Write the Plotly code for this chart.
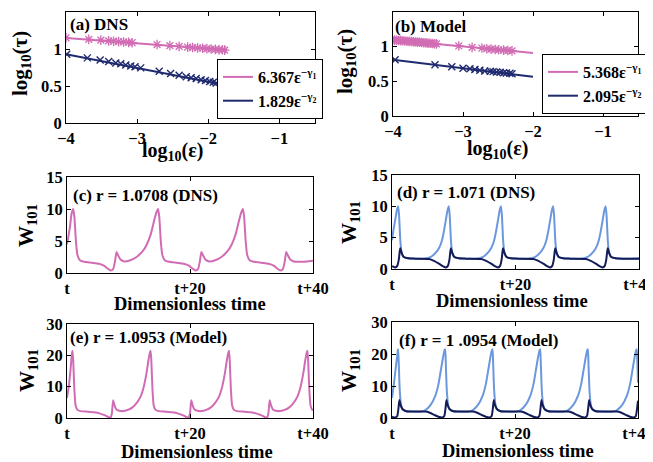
import plotly.graph_objects as go

# ---------------- data ----------------
# (a) DNS scaling
a_star_x = [-4.0, -3.68, -3.51, -3.40, -3.33, -3.26, -3.19, -3.12, -3.07, -2.72, -2.54, -2.41, -2.29,
            -2.22, -2.15, -2.08, -2.02, -1.96, -1.90, -1.85, -1.80, -1.77]
a_star_y = [1.15, 1.13, 1.12, 1.11, 1.105, 1.10, 1.095, 1.09, 1.085, 1.06, 1.045, 1.035, 1.025,
            1.02, 1.015, 1.01, 1.005, 1.0, 0.995, 0.99, 0.99, 0.985]
a_x_x = [-3.99, -3.70, -3.52, -3.40, -3.30, -3.23, -3.16, -3.09, -3.03, -2.95, -2.69, -2.53, -2.41,
         -2.31, -2.24, -2.17, -2.10, -2.04, -1.98, -1.93, -1.89]
a_x_y = [0.93, 0.88, 0.85, 0.83, 0.81, 0.80, 0.785, 0.77, 0.76, 0.745, 0.70, 0.67, 0.645,
         0.625, 0.61, 0.60, 0.585, 0.575, 0.56, 0.55, 0.54]
a_fit1_x = [-4.0, -1.75]
a_fit1_y = [1.15, 0.985]
a_fit2_x = [-4.0, -1.75]
a_fit2_y = [0.93, 0.51]
a_labels = ["6.367ε<sup>−γ<sub>1</sub></sup>", "1.829ε<sup>−γ<sub>2</sub></sup>"]

# (b) Model scaling
b_star_x = [-4.02, -3.98, -3.95, -3.92, -3.89, -3.86, -3.83, -3.80, -3.77, -3.74, -3.71, -3.68, -3.65,
            -3.62, -3.59, -3.56, -3.53, -3.50, -3.47, -3.44, -3.41, -3.38,
            -3.06, -2.87, -2.73, -2.66, -2.60, -2.54, -2.49, -2.42, -2.36, -2.30]
b_star_y = [1.10, 1.095, 1.093, 1.09, 1.087, 1.085, 1.082, 1.079, 1.076, 1.074, 1.071, 1.068, 1.065,
            1.063, 1.06, 1.057, 1.054, 1.051, 1.049, 1.046, 1.043, 1.04,
            1.01, 0.99, 0.98, 0.97, 0.965, 0.96, 0.955, 0.95, 0.945, 0.94]
b_x_x = [-3.97, -3.40, -3.16, -3.00, -2.90, -2.83, -2.76, -2.69, -2.61, -2.57, -2.52, -2.47, -2.42,
         -2.38, -2.33, -2.30]
b_x_y = [0.81, 0.74, 0.71, 0.69, 0.68, 0.67, 0.66, 0.65, 0.645, 0.64, 0.635, 0.63, 0.625,
         0.62, 0.615, 0.61]
b_fit1_x = [-4.0, -2.0]
b_fit1_y = [1.097, 0.91]
b_fit2_x = [-4.0, -2.0]
b_fit2_y = [0.81, 0.565]
b_labels = ["5.368ε<sup>−γ<sub>1</sub></sup>", "2.095ε<sup>−γ<sub>2</sub></sup>"]

# (c) r = 1.0708 DNS
c_t = [0.0, 0.45, 0.75, 1.0, 1.2, 1.45, 1.7, 2.1, 2.8, 4.0, 5.2, 6.0, 6.6, 7.1, 7.5, 7.8, 8.05, 8.3, 8.7, 9.3,
       10.3, 11.3, 12.3, 13.0, 13.6, 14.2, 14.55, 14.8, 15.0, 15.25, 15.5, 15.9, 16.6, 17.8, 19.0, 19.8,
       20.4, 20.9, 21.3, 21.6, 21.85, 22.1, 22.5, 23.1,
       24.1, 25.1, 26.1, 26.8, 27.4, 28.0, 28.35, 28.6, 28.8, 29.05, 29.3, 29.7, 30.4, 31.6, 32.8, 33.6,
       34.2, 34.7, 35.1, 35.4, 35.65, 35.9, 36.3, 36.9, 38.0, 39.0, 40.0]
c_w = [4.5, 7.0, 9.3, 10.0, 8.8, 5.0, 2.8, 2.0, 1.75, 1.6, 1.45, 1.15, 0.7, 0.4, 0.6, 1.8, 3.3, 2.8, 2.1, 1.8,
       2.0, 2.5, 3.4, 4.5, 6.0, 8.3, 9.5, 10.0, 8.8, 5.0, 2.8, 2.0, 1.75, 1.6, 1.45, 1.15,
       0.7, 0.4, 0.6, 1.8, 3.3, 2.8, 2.1, 1.8,
       2.0, 2.5, 3.4, 4.5, 6.0, 8.3, 9.5, 10.0, 8.8, 5.0, 2.8, 2.0, 1.75, 1.6, 1.45, 1.15,
       0.7, 0.4, 0.6, 1.8, 3.3, 2.8, 2.1, 1.8, 1.75, 1.8, 1.9]

# (d) r = 1.071 DNS
d1_t = [0.0, 0.2, 0.55, 0.8, 1.0, 1.15, 1.35, 1.55, 1.9, 2.6, 3.8,
        5.0, 6.0, 6.8, 7.6, 8.1, 8.4, 8.75, 9.0, 9.2, 9.35, 9.55, 9.75, 10.1, 10.8, 12.0,
        13.45, 14.45, 15.25, 16.05, 16.55, 16.85, 17.2, 17.45, 17.65, 17.8, 18.0, 18.2, 18.55, 19.25, 20.45,
        21.9, 22.9, 23.7, 24.5, 25.0, 25.3, 25.65, 25.9, 26.1, 26.25, 26.45, 26.65, 27.0, 27.7, 28.9,
        30.4, 31.4, 32.2, 33.0, 33.5, 33.8, 34.15, 34.4, 34.6, 34.75, 34.95, 35.15, 35.5, 36.2, 37.4, 38.5, 40.0]
d1_w = [4.6, 6.0, 8.0, 9.4, 10.0, 8.5, 4.5, 2.6, 1.9, 1.7, 1.65,
        1.65, 1.8, 2.3, 3.3, 4.6, 6.0, 8.0, 9.4, 10.0, 8.5, 4.5, 2.6, 1.9, 1.7, 1.65,
        1.65, 1.8, 2.3, 3.3, 4.6, 6.0, 8.0, 9.4, 10.0, 8.5, 4.5, 2.6, 1.9, 1.7, 1.65,
        1.65, 1.8, 2.3, 3.3, 4.6, 6.0, 8.0, 9.4, 10.0, 8.5, 4.5, 2.6, 1.9, 1.7, 1.65,
        1.65, 1.8, 2.3, 3.3, 4.6, 6.0, 8.0, 9.4, 10.0, 8.5, 4.5, 2.6, 1.9, 1.7, 1.65, 1.65, 1.7]
d2_t = [0.0, 0.5, 0.85, 1.1, 1.25, 1.35, 1.55, 1.9, 2.6, 3.8,
        6.0, 6.8, 7.6, 8.2, 8.7, 9.05, 9.3, 9.45, 9.55, 9.75, 10.1, 10.8, 12.0,
        14.45, 15.25, 16.05, 16.65, 17.15, 17.5, 17.75, 17.9, 18.0, 18.2, 18.55, 19.25, 20.45,
        22.9, 23.7, 24.5, 25.1, 25.6, 25.95, 26.2, 26.35, 26.45, 26.65, 27.0, 27.7, 28.9,
        31.4, 32.2, 33.0, 33.6, 34.1, 34.45, 34.7, 34.85, 34.95, 35.15, 35.5, 36.2, 37.4, 40.0]
d2_w = [0.45, 0.25, 0.5, 1.5, 2.8, 3.3, 2.6, 1.9, 1.7, 1.65,
        1.6, 1.3, 0.85, 0.45, 0.25, 0.5, 1.5, 2.8, 3.3, 2.6, 1.9, 1.7, 1.65,
        1.6, 1.3, 0.85, 0.45, 0.25, 0.5, 1.5, 2.8, 3.3, 2.6, 1.9, 1.7, 1.65,
        1.6, 1.3, 0.85, 0.45, 0.25, 0.5, 1.5, 2.8, 3.3, 2.6, 1.9, 1.7, 1.65,
        1.6, 1.3, 0.85, 0.45, 0.25, 0.5, 1.5, 2.8, 3.3, 2.6, 1.9, 1.7, 1.65, 1.65]

# (e) r = 1.0953 Model
e_t = [0.0, 0.35, 0.6, 0.8, 0.9, 1.02, 1.2, 1.4, 1.7, 2.2, 3.4, 4.4, 5.4, 6.1, 6.7, 7.1, 7.3, 7.5, 7.7, 8.0, 8.5,
       9.1, 9.9, 10.6, 11.4, 12.0, 12.4, 12.9, 13.25, 13.5, 13.6, 13.72, 13.9, 14.1, 14.4, 14.9, 16.1, 17.1,
       18.1, 18.8, 19.4, 19.8, 20.0, 20.2, 20.4, 20.7, 21.2,
       21.85, 22.65, 23.35, 24.15, 24.75, 25.15, 25.65, 26.0, 26.25, 26.35, 26.47, 26.65, 26.85, 27.15, 27.65,
       28.85, 29.85, 30.85, 31.55, 32.15, 32.55, 32.75, 32.95, 33.15, 33.45, 33.95,
       34.6, 35.4, 36.1, 36.9, 37.5, 37.9, 38.4, 38.75, 39.0, 39.1, 39.22, 39.4, 39.6, 39.85, 40.0]
e_w = [6.4, 11.0, 16.0, 20.5, 21.5, 18.0, 9.0, 4.0, 2.6, 2.2, 2.0, 1.8, 1.4, 0.9, 0.3, 0.15, 1.5, 5.7, 4.2, 2.8, 2.3,
       2.2, 2.6, 3.3, 5.0, 7.0, 9.3, 14.0, 18.5, 21.0, 21.5, 18.0, 9.0, 4.0, 2.6, 2.2, 2.0, 1.8,
       1.4, 0.9, 0.3, 0.15, 1.5, 5.7, 4.2, 2.8, 2.3,
       2.2, 2.6, 3.3, 5.0, 7.0, 9.3, 14.0, 18.5, 21.0, 21.5, 18.0, 9.0, 4.0, 2.6, 2.2,
       2.0, 1.8, 1.4, 0.9, 0.3, 0.15, 1.5, 5.7, 4.2, 2.8, 2.3,
       2.2, 2.6, 3.3, 5.0, 7.0, 9.3, 14.0, 18.5, 21.0, 21.5, 18.0, 9.0, 4.0, 2.7, 2.5]

# (f) r = 1.0954 Model
f1_t = [0.0, 0.3, 0.6, 0.85, 0.95, 1.0, 1.1, 1.25, 1.45, 1.7, 2.2, 3.2,
        4.75, 5.45, 6.25, 7.05, 7.55, 7.95, 8.3, 8.55, 8.65, 8.75, 8.9, 9.1, 9.35, 9.85, 10.85,
        12.45, 13.15, 13.95, 14.75, 15.25, 15.65, 16.0, 16.25, 16.35, 16.45, 16.6, 16.8, 17.05, 17.55, 18.55,
        20.2, 20.9, 21.7, 22.5, 23.0, 23.4, 23.75, 24.0, 24.1, 24.2, 24.35, 24.55, 24.8, 25.3, 26.3,
        27.95, 28.65, 29.45, 30.25, 30.75, 31.15, 31.5, 31.75, 31.85, 31.95, 32.1, 32.3, 32.55, 33.05, 34.05,
        35.9, 36.6, 37.4, 38.2, 38.7, 39.1, 39.45, 39.7, 39.8, 39.9, 40.0]
f1_w = [6.3, 10.5, 15.5, 19.5, 21.2, 21.5, 17.0, 9.0, 4.5, 2.8, 2.2, 2.0,
        2.0, 2.5, 4.0, 7.0, 10.5, 15.0, 19.0, 21.2, 21.5, 17.0, 9.0, 4.5, 2.8, 2.2, 2.0,
        2.0, 2.5, 4.0, 7.0, 10.5, 15.0, 19.0, 21.2, 21.5, 17.0, 9.0, 4.5, 2.8, 2.2, 2.0,
        2.0, 2.5, 4.0, 7.0, 10.5, 15.0, 19.0, 21.2, 21.5, 17.0, 9.0, 4.5, 2.8, 2.2, 2.0,
        2.0, 2.5, 4.0, 7.0, 10.5, 15.0, 19.0, 21.2, 21.5, 17.0, 9.0, 4.5, 2.8, 2.2, 2.0,
        2.0, 2.5, 4.0, 7.0, 10.5, 15.0, 19.0, 21.2, 21.5, 17.0, 11.0]
f2_t = [0.0, 0.5, 0.85, 1.05, 1.2, 1.4, 1.7, 2.2, 3.2,
        5.45, 6.05, 6.85, 7.55, 8.15, 8.5, 8.7, 8.85, 9.05, 9.35, 9.85, 10.85,
        13.15, 13.75, 14.55, 15.25, 15.85, 16.2, 16.4, 16.55, 16.75, 17.05, 17.55, 18.55,
        20.9, 21.5, 22.3, 23.0, 23.6, 23.95, 24.15, 24.3, 24.5, 24.8, 25.3, 26.3,
        28.65, 29.25, 30.05, 30.75, 31.35, 31.7, 31.9, 32.05, 32.25, 32.55, 33.05, 34.05,
        36.6, 37.2, 38.0, 38.7, 39.3, 39.65, 39.85, 40.0]
f2_w = [0.45, 0.15, 0.6, 3.0, 5.6, 4.0, 2.8, 2.2, 2.0,
        2.0, 1.7, 1.0, 0.4, 0.15, 0.6, 3.0, 5.6, 4.0, 2.8, 2.2, 2.0,
        2.0, 1.7, 1.0, 0.4, 0.15, 0.6, 3.0, 5.6, 4.0, 2.8, 2.2, 2.0,
        2.0, 1.7, 1.0, 0.4, 0.15, 0.6, 3.0, 5.6, 4.0, 2.8, 2.2, 2.0,
        2.0, 1.7, 1.0, 0.4, 0.15, 0.6, 3.0, 5.6, 4.0, 2.8, 2.2, 2.0,
        2.0, 1.7, 1.0, 0.4, 0.15, 0.6, 3.0, 5.4]

panel_titles = ["(a) DNS", "(b) Model", "(c) r = 1.0708 (DNS)", "(d) r = 1.071 (DNS)",
                "(e) r = 1.0953 (Model)", "(f) r = 1 .0954 (Model)"]
xtitles = ["log<sub>10</sub>(ε)", "log<sub>10</sub>(ε)", "Dimensionless time", "Dimensionless time",
           "Dimensionless time", "Dimensionless time"]
ytitles = ["log<sub>10</sub>(τ)", "log<sub>10</sub>(τ)", "W<sub>101</sub>", "W<sub>101</sub>",
           "W<sub>101</sub>", "W<sub>101</sub>"]
eps_ticks = [-4, -3, -2, -1]
tau_ticks = [0, 0.5, 1, 1.5]
w_ticks_small = [0, 5, 10, 15]
w_ticks_large = [0, 10, 20, 30]
time_tickvals = [0, 20, 40]
time_ticktext = ["t", "t+20", "t+40"]

# ---------------- style ----------------
PINK = "#d16cb4"
NAVY = "#1f2a6e"
LIGHT = "#6b98dc"
DARK = "#141c58"
FONT = "Liberation Serif"
OFF = 8                      # page body margin of the html page
W, H = 660, 462 - OFF        # figure a little wider than the window so edge tick labels are kept (cut by window)

def px_x(p):
    return (p - OFF) / W

def px_y(p):
    return 1 - (p - OFF) / H

fig = go.Figure()

def smooth_line(x, y, color, xa, ya, width=2):
    fig.add_trace(go.Scatter(x=x, y=y, mode="lines", line=dict(color=color, width=width, shape="spline", smoothing=0.5),
                             xaxis=xa, yaxis=ya, showlegend=False, hoverinfo="skip"))

star = dict(symbol="asterisk-open", size=8, color=PINK, line=dict(width=1.3, color=PINK))
cross = dict(symbol="x-thin-open", size=7, color=NAVY, line=dict(width=1.4, color=NAVY))

# (a)
fig.add_trace(go.Scatter(x=a_fit1_x, y=a_fit1_y, mode="lines", line=dict(color=PINK, width=2), name=a_labels[0],
                         xaxis="x", yaxis="y", legend="legend"))
fig.add_trace(go.Scatter(x=a_fit2_x, y=a_fit2_y, mode="lines", line=dict(color=NAVY, width=2), name=a_labels[1],
                         xaxis="x", yaxis="y", legend="legend"))
fig.add_trace(go.Scatter(x=a_star_x, y=a_star_y, mode="markers", marker=star, xaxis="x", yaxis="y", showlegend=False))
fig.add_trace(go.Scatter(x=a_x_x, y=a_x_y, mode="markers", marker=cross, xaxis="x", yaxis="y", showlegend=False))
# (b)
fig.add_trace(go.Scatter(x=b_fit1_x, y=b_fit1_y, mode="lines", line=dict(color=PINK, width=2), name=b_labels[0],
                         xaxis="x2", yaxis="y2", legend="legend2"))
fig.add_trace(go.Scatter(x=b_fit2_x, y=b_fit2_y, mode="lines", line=dict(color=NAVY, width=2), name=b_labels[1],
                         xaxis="x2", yaxis="y2", legend="legend2"))
fig.add_trace(go.Scatter(x=b_star_x, y=b_star_y, mode="markers", marker=star, xaxis="x2", yaxis="y2", showlegend=False))
fig.add_trace(go.Scatter(x=b_x_x, y=b_x_y, mode="markers", marker=cross, xaxis="x2", yaxis="y2", showlegend=False))
# (c)-(f)
smooth_line(c_t, c_w, PINK, "x3", "y3")
smooth_line(d1_t, d1_w, LIGHT, "x4", "y4")
smooth_line(d2_t, d2_w, DARK, "x4", "y4")
smooth_line(e_t, e_w, PINK, "x5", "y5")
smooth_line(f1_t, f1_w, LIGHT, "x6", "y6")
smooth_line(f2_t, f2_w, DARK, "x6", "y6")

tickfont = dict(family=FONT, size=16.5, color="black", weight="bold")

def axis_common():
    return dict(showline=True, linecolor="black", linewidth=1, mirror="ticks", ticks="inside", ticklen=4,
                tickcolor="black", showgrid=False, zeroline=False, tickfont=tickfont, automargin=False)

# domains in window pixels: (left, right, top, bottom)
boxes = [(66, 315, 12, 123), (393, 638, 12, 116), (67, 313, 177, 273), (392, 639, 175, 269),
         (67, 313, 324, 418), (392, 638, 322, 418)]

layout = dict(width=W, height=H, margin=dict(l=0, r=0, t=0, b=0), plot_bgcolor="white", paper_bgcolor="white")
for i, (l, r, t, b) in enumerate(boxes):
    n = "" if i == 0 else str(i + 1)
    xa = axis_common()
    ya = axis_common()
    xa.update(domain=[px_x(l), px_x(r)], anchor="y" + n)
    ya.update(domain=[px_y(b), px_y(t)], anchor="x" + n)
    if i < 2:
        xa.update(range=[-4, -0.5], tickvals=eps_ticks)
        ya.update(range=[0, 1.5], tickvals=tau_ticks)
    else:
        xa.update(range=[0, 40], tickvals=time_tickvals, ticktext=time_ticktext)
        if i < 4:
            ya.update(range=[0, 15], tickvals=w_ticks_small)
        else:
            ya.update(range=[0, 30], tickvals=w_ticks_large)
    layout["xaxis" + n] = xa
    layout["yaxis" + n] = ya

legend_style = dict(bgcolor="white", bordercolor="black", borderwidth=1,
                    font=dict(family=FONT, size=16, color="black", weight="bold"),
                    xanchor="left", yanchor="top", tracegroupgap=0, itemwidth=30)
layout["legend"] = dict(x=px_x(217), y=px_y(59), **legend_style)
layout["legend2"] = dict(x=px_x(542), y=px_y(54), **legend_style)

annots = []
title_pos = [(68, 25), (393, 27), (71, 195), (395, 192), (68, 337), (397, 340)]
for txt, (x, y) in zip(panel_titles, title_pos):
    annots.append(dict(text=txt, x=px_x(x), y=px_y(y), xref="paper", yref="paper", xanchor="left", yanchor="middle",
                       showarrow=False, font=dict(family=FONT, size=17, color="black", weight="bold")))
# axis titles
xt_pos = [(172, 151), (497, 149), (190, 304), (512, 301), (197, 452), (518, 451)]
xt_size = [20, 20, 18.5, 18.5, 18.5, 18.5]
for txt, (x, y), s in zip(xtitles, xt_pos, xt_size):
    annots.append(dict(text=txt, x=px_x(x), y=px_y(y), xref="paper", yref="paper", xanchor="center", yanchor="middle",
                       showarrow=False, font=dict(family=FONT, size=s, color="black", weight="bold")))
yt_pos = [(21, 64), (346, 62), (27, 226), (350, 223), (28, 371), (350, 371)]
for txt, (x, y) in zip(ytitles, yt_pos):
    annots.append(dict(text=txt, x=px_x(x), y=px_y(y), xref="paper", yref="paper", xanchor="center", yanchor="middle",
                       textangle=-90, showarrow=False, font=dict(family=FONT, size=21, color="black", weight="bold")))
layout["annotations"] = annots

fig.update_layout(**layout)
fig.write_html("out.html")
